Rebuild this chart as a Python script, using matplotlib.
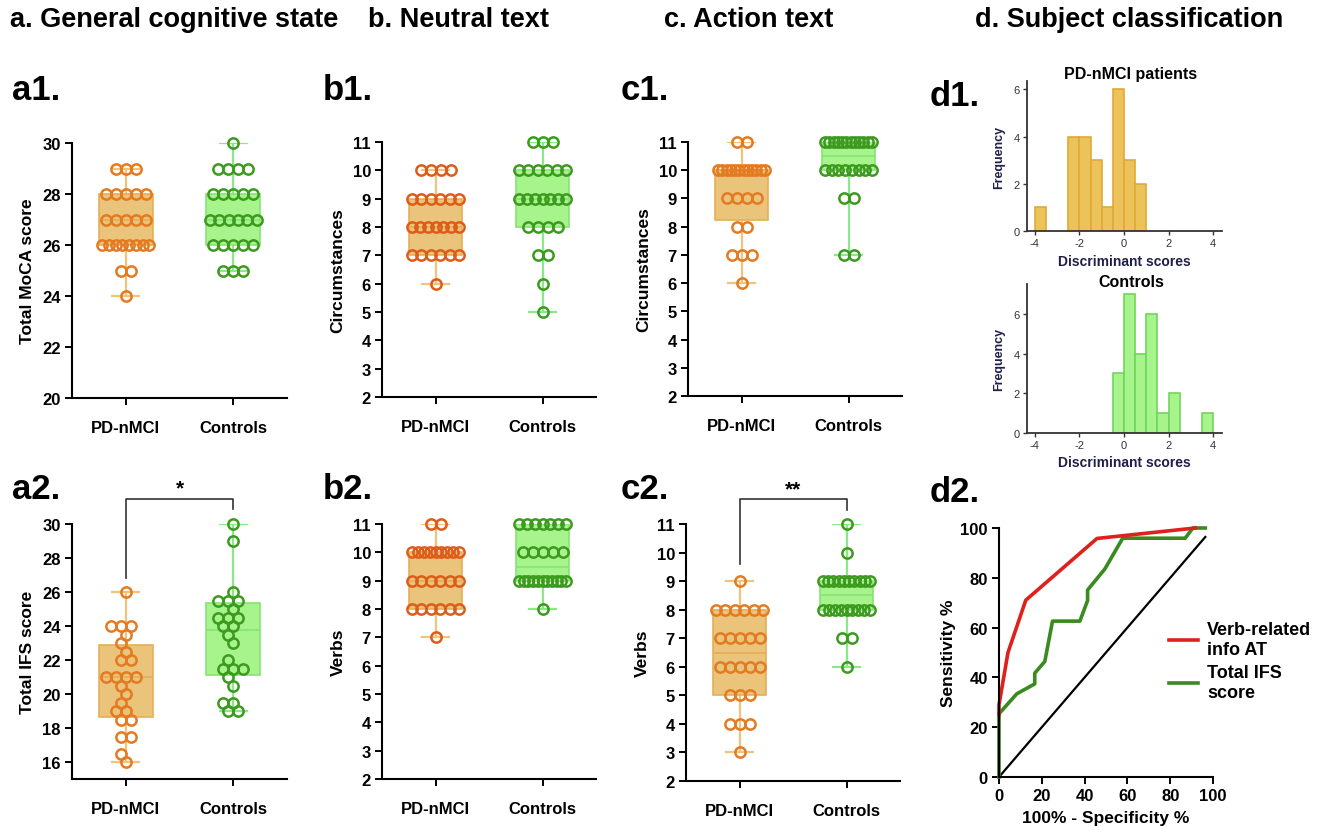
import numpy as np
import matplotlib
matplotlib.use('Agg')
import matplotlib.pyplot as plt

plt.rcParams['font.family'] = ['Liberation Sans', 'DejaVu Sans']
plt.rcParams['font.weight'] = 'bold'
plt.rcParams['axes.unicode_minus'] = False

# ---- data ----
groups = ['PD-nMCI', 'Controls']

a1_pd = [24, 25, 25, 26, 26, 26, 26, 26, 26, 26, 26, 27, 27, 27, 27, 27, 28, 28, 28, 28, 28, 29, 29, 29]
a1_ct = [25, 25, 25, 26, 26, 26, 26, 26, 27, 27, 27, 27, 27, 27, 28, 28, 28, 28, 28, 29, 29, 29, 29, 30]
a2_pd = [16, 16.5, 17.5, 17.5, 18.5, 18.5, 19, 19, 19.5, 20, 20.5, 21, 21, 21, 21, 22, 22, 22.5, 23, 23.5,
         24, 24, 24, 26]
a2_ct = [19, 19, 19.5, 19.5, 20.5, 21, 21.5, 21.5, 21.5, 22, 23, 23.5, 24, 24, 24.5, 24.5, 24.5, 25,
         25.5, 25.5, 25.5, 26, 29, 30]
b1_pd = [6, 7, 7, 7, 7, 7, 7, 8, 8, 8, 8, 8, 8, 8, 9, 9, 9, 9, 9, 9, 10, 10, 10, 10]
b1_ct = [5, 6, 7, 7, 8, 8, 8, 8, 9, 9, 9, 9, 9, 9, 9, 10, 10, 10, 10, 10, 10, 11, 11, 11]
b2_pd = [7, 8, 8, 8, 8, 8, 8, 9, 9, 9, 9, 9, 9, 10, 10, 10, 10, 10, 10, 10, 10, 10, 11, 11]
b2_ct = [8, 9, 9, 9, 9, 9, 9, 9, 9, 9, 9, 9, 10, 10, 10, 10, 10, 11, 11, 11, 11, 11, 11, 11]
c1_pd = [6, 7, 7, 7, 8, 8, 9, 9, 9, 9, 10, 10, 10, 10, 10, 10, 10, 10, 10, 10, 10, 10, 11, 11]
c1_ct = [7, 7, 9, 9, 10, 10, 10, 10, 10, 10, 10, 10, 11, 11, 11, 11, 11, 11, 11, 11, 11, 11, 11, 11]
c2_pd = [3, 4, 4, 4, 5, 5, 5, 6, 6, 6, 6, 6, 7, 7, 7, 7, 7, 8, 8, 8, 8, 8, 8, 9]
c2_ct = [6, 7, 7, 8, 8, 8, 8, 8, 8, 8, 8, 8, 9, 9, 9, 9, 9, 9, 9, 9, 9, 9, 10, 11]

# discriminant score histograms (bin left edge, count), bin width 0.5
pd_bins = [-4.0, -2.5, -2.0, -1.5, -1.0, -0.5, 0.0, 0.5]
pd_counts = [1, 4, 4, 3, 1, 6, 3, 2]
ct_bins = [-0.5, 0.0, 0.5, 1.0, 1.5, 2.0, 3.5]
ct_counts = [3, 7, 4, 6, 1, 2, 1]

# ROC curves
roc_verb_x = [0, 0, 4.2, 12.5, 45.8, 91.7]
roc_verb_y = [25, 29, 50, 71, 95.8, 100]
roc_ifs_x = [0, 0, 8.3, 16.7, 16.7, 21.4, 25, 37.8, 41.4, 41.4, 49.5, 57.8, 87.0, 90.6, 96.4]
roc_ifs_y = [0, 25.4, 33.4, 37.4, 41.7, 46.4, 62.6, 62.6, 70.9, 75.1, 83.6, 95.9, 95.9, 100, 100]
roc_ref = [0, 96.4]

W, H = 1323, 828
fig = plt.figure(figsize=(W / 100, H / 100), dpi=100)


def rect(l, t, r, b):
    return [l / W, 1 - b / H, (r - l) / W, (b - t) / H]


PD_FILL, PD_EDGE, PD_WHISK = '#E9C47A', '#E6AE55', '#F0C47A'
CT_FILL, CT_EDGE, CT_WHISK = '#A8F48C', '#86E474', '#8AE88A'
CT_DOT = '#3C9A1E'


def swarm(vals, ypx, d=10.0, half=23.5):
    vals = np.asarray(vals, float)
    xs = np.zeros(len(vals))
    placed = []
    for v in np.unique(vals):
        idx = np.where(vals == v)[0]
        k = len(idx)
        step = d if k == 1 else min(d, 2 * half / (k - 1))
        offs = (np.arange(k) - (k - 1) / 2) * step
        best, best_score = 0.0, -1
        for c in sorted(np.arange(-half, half + 0.01, 0.5), key=abs):
            pts = offs + c
            if np.any(np.abs(pts) > half + 0.01):
                continue
            if not placed:
                best = c
                break
            md = min(np.hypot(p - qx, (v - qv) * ypx) for p in pts for qx, qv in placed)
            if md >= 0.97 * d:
                best = c
                break
            if md > best_score:
                best, best_score = c, md
        for i, p in zip(idx, offs + best):
            xs[i] = p
            placed.append((p, v))
    return xs


def box_panel(box, pd, ct, ylim, yticks, ylabel, pd_dot):
    ax = fig.add_axes(rect(*box))
    ax.set_xlim(-0.5, 1.5)
    ax.set_ylim(*ylim)
    wpx = box[2] - box[0]
    hpx = box[3] - box[1]
    xpx = wpx / 2.0
    ypx = hpx / (ylim[1] - ylim[0])
    stats = []
    for data in (pd, ct):
        q1, med, q3 = np.percentile(data, [25, 50, 75], method='weibull')
        stats.append(dict(med=med, q1=q1, q3=q3, whislo=min(data), whishi=max(data)))
    bp = ax.bxp(stats, positions=[0, 1], widths=0.5, capwidths=0.25, patch_artist=True,
                showfliers=False, manage_ticks=False)
    for i, (fc, ec, wc) in enumerate([(PD_FILL, PD_EDGE, PD_WHISK), (CT_FILL, CT_EDGE, CT_WHISK)]):
        bp['boxes'][i].set(facecolor=fc, edgecolor=ec, linewidth=1.2, zorder=1)
        bp['medians'][i].set(color=ec, linewidth=1.2, zorder=1.5)
        for ln in bp['whiskers'][2 * i:2 * i + 2] + bp['caps'][2 * i:2 * i + 2]:
            ln.set(color=wc, linewidth=1.6, zorder=0.8)
    for pos, data, col in [(0, pd, pd_dot), (1, ct, CT_DOT)]:
        off = swarm(data, ypx) / xpx
        ax.plot(pos + off, data, 'o', ms=7.4, mfc='none', mec=col, mew=1.8, zorder=3, clip_on=False)
    for s in ['top', 'right']:
        ax.spines[s].set_visible(False)
    for s in ['left', 'bottom']:
        ax.spines[s].set_linewidth(1.5)
    ax.set_yticks(yticks)
    ax.set_xticks([0, 1])
    ax.set_xticklabels(groups, fontsize=13, fontweight='bold')
    ax.tick_params(axis='both', width=1.4, length=5, labelsize=12, pad=3)
    ax.tick_params(axis='x', pad=11)
    ax.set_ylabel(ylabel, fontsize=12.5, fontweight='bold', labelpad=5)
    return ax


box_panel((72, 144, 287, 399), a1_pd, a1_ct, (20, 30), range(20, 31, 2), 'Total MoCA score', '#E47A22')
ax_a2 = box_panel((72, 525, 287, 780), a2_pd, a2_ct, (15, 30), range(16, 31, 2), 'Total IFS score', '#E47A22')
box_panel((382, 143, 596, 398), b1_pd, b1_ct, (2, 11), range(2, 12), 'Circumstances', '#DD5C1A')
box_panel((382, 525, 596, 780), b2_pd, b2_ct, (2, 11), range(2, 12), 'Verbs', '#DD5C1A')
box_panel((688, 143, 902, 397), c1_pd, c1_ct, (2, 11), range(2, 12), 'Circumstances', '#E47A22')
ax_c2 = box_panel((686, 525, 900, 782), c2_pd, c2_ct, (2, 11), range(2, 12), 'Verbs', '#E47A22')

# significance brackets
ax_a2.plot([0, 0, 1, 1], [26.8, 31.5, 31.5, 30.9], color='#333333', lw=1.2, clip_on=False)
ax_a2.text(0.5, 31.55, '*', ha='center', va='bottom', fontsize=15, fontweight='bold')
ax_c2.plot([0, 0, 1, 1], [9.6, 11.87, 11.87, 11.5], color='#333333', lw=1.2, clip_on=False)
ax_c2.text(0.5, 11.9, '**', ha='center', va='bottom', fontsize=15, fontweight='bold')


def hist_panel(box, left, counts, ymax, title, title_y, fc, ec):
    ax = fig.add_axes(rect(*box))
    ax.bar(left, counts, width=0.5, align='edge', color=fc, edgecolor=ec, linewidth=1.2)
    ax.set_xlim(-4.35, 4.4)
    ax.set_ylim(0, ymax)
    ax.set_xticks([-4, -2, 0, 2, 4])
    ax.set_yticks([0, 2, 4, 6])
    for s in ['top', 'right']:
        ax.spines[s].set_visible(False)
    for s in ['left', 'bottom']:
        ax.spines[s].set_linewidth(1.3)
        ax.spines[s].set_color('#333333')
    ax.tick_params(labelsize=8, length=3, width=1, pad=2, colors='#333333')
    for lab in ax.get_xticklabels() + ax.get_yticklabels():
        lab.set_fontweight('normal')
    ax.set_ylabel('Frequency', fontsize=9, fontweight='bold', color='#1f1f4a', labelpad=6)
    ax.set_xlabel('Discriminant scores', fontsize=10, fontweight='bold', color='#1f1f4a', labelpad=4)
    fig.text(1131 / W, 1 - title_y / H, title, fontsize=11.5, fontweight='bold', ha='center', va='center')
    return ax


hist_panel((1027, 82, 1222, 232), pd_bins, pd_counts, 6.35, 'PD-nMCI patients', 75, '#EBC35A', '#E2A933')
hist_panel((1027, 285, 1222, 434), ct_bins, ct_counts, 7.5, 'Controls', 283, '#A8F48C', '#72D45E')

# ROC
ax = fig.add_axes(rect(999, 529, 1213, 778))
ax.plot(roc_ref, roc_ref, color='black', lw=1.6)
ax.plot(roc_ifs_x, roc_ifs_y, color='#3A8A1E', lw=2.6, label='Total IFS\nscore', clip_on=False)
ax.plot(roc_verb_x, roc_verb_y, color='#E0201C', lw=2.6, label='Verb-related\ninfo AT', clip_on=False)
ax.set_xlim(0, 100)
ax.set_ylim(0, 100)
ax.set_xticks(range(0, 101, 20))
ax.set_yticks(range(0, 101, 20))
for s in ['top', 'right']:
    ax.spines[s].set_visible(False)
for s in ['left', 'bottom']:
    ax.spines[s].set_linewidth(1.5)
ax.tick_params(labelsize=12, width=1.4, length=5, pad=3)
ax.set_xlabel('100% - Specificity %', fontsize=12.5, fontweight='bold', labelpad=5)
ax.set_ylabel('Sensitivity %', fontsize=12.5, fontweight='bold', labelpad=3)
h, l = ax.get_legend_handles_labels()
fig.legend(h[::-1], l[::-1], loc='upper left', bbox_to_anchor=(1153 / W, 1 - 606 / H),
           frameon=False, handlelength=1.6, handletextpad=0.5, labelspacing=0.35,
           prop={'size': 13, 'weight': 'bold'})

# headings and panel labels
for x, txt in [(10, 'a. General cognitive state'), (368, 'b. Neutral text'),
               (664, 'c. Action text'), (975, 'd. Subject classification')]:
    fig.text(x / W, 1 - 20 / H, txt, fontsize=19.5, fontweight='bold', va='center')
for x, y, txt in [(12, 90, 'a1.'), (323, 90, 'b1.'), (621, 90, 'c1.'), (930, 97, 'd1.'),
                  (12, 490, 'a2.'), (323, 490, 'b2.'), (621, 490, 'c2.'), (930, 493, 'd2.')]:
    fig.text(x / W, 1 - y / H, txt, fontsize=25, fontweight='bold', va='center')

fig.savefig('out.png', dpi=100)
